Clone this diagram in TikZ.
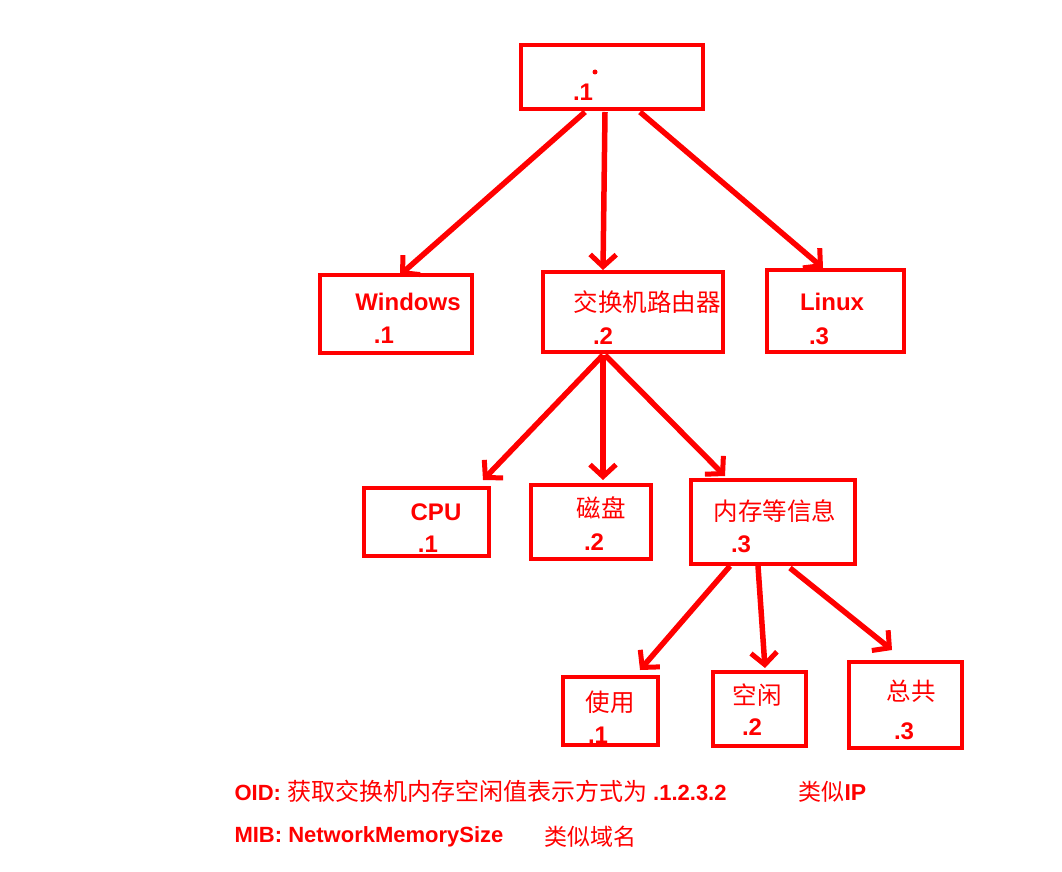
\documentclass[tikz,border=0pt]{standalone}
\usepackage{fontspec}
\setmainfont{Liberation Sans}
\newfontfamily\cjk{Noto Sans CJK SC}
\usetikzlibrary{arrows.meta}
\begin{document}
\begin{tikzpicture}[x=1pt,y=-1pt,
  box/.style={draw=red,line width=4.5pt},
  lat/.style={text=red,font=\fontsize{24}{28}\selectfont\bfseries},
  zh/.style={text=red,font=\cjk\fontsize{24.5}{28}\selectfont},
  arr/.style={draw=red,line width=5.5pt,-{Straight Barb[length=12pt,width=26pt,line width=5pt]}}]
\useasboundingbox[fill=white] (0,0) rectangle (1062,872);
\draw[box] (521,45) rectangle (703,109);
\fill[red] (595,72) circle (2.5pt) coordinate (rdot);
\node[lat] (r1) at (583,92) {.1};
\draw[box] (320,275) rectangle (472,353);
\node[lat] (win) at (408,302) {Windows}; \node[lat] (win1) at (384,335) {.1};
\draw[box] (543,272) rectangle (723,352);
\node[zh] (sw) at (647,302) {交换机路由器}; \node[lat] (sw1) at (603,336) {.2};
\draw[box] (767,270) rectangle (904,352);
\node[lat] (lin) at (832,302) {Linux}; \node[lat] (lin1) at (819,336) {.3};
\draw[box] (364,488) rectangle (489,556);
\node[lat] (cpu) at (436,512) {CPU}; \node[lat] (cpu1) at (428,544) {.1};
\draw[box] (531,485) rectangle (651,559);
\node[zh] (disk) at (601,508) {磁盘}; \node[lat] (disk1) at (594,542) {.2};
\draw[box] (691,480) rectangle (855,564);
\node[zh] (mem) at (775,511) {内存等信息}; \node[lat] (mem1) at (741,544) {.3};
\draw[box] (563,677) rectangle (658,745);
\node[zh] (use) at (610,702) {使用}; \node[lat] (use1) at (598,735) {.1};
\draw[box] (713,672) rectangle (806,746);
\node[zh] (free) at (757,695) {空闲}; \node[lat] (free1) at (752,727) {.2};
\draw[box] (849,662) rectangle (962,748);
\node[zh] (tot) at (911,691) {总共}; \node[lat] (tot1) at (904,731) {.3};
\coordinate (a1) at (585,112); \coordinate (a1e) at (400,275);
\coordinate (a2) at (605,112); \coordinate (a2e) at (603,270);
\coordinate (a3) at (640,112); \coordinate (a3e) at (823,268);
\coordinate (b1) at (603,355); \coordinate (b1e) at (483,480);
\coordinate (b2) at (603,355); \coordinate (b2e) at (603,480);
\coordinate (b3) at (605,355); \coordinate (b3e) at (725,476);
\coordinate (c1) at (730,566); \coordinate (c1e) at (640,670);
\coordinate (c2) at (758,566); \coordinate (c2e) at (765,668);
\coordinate (c3) at (790,568); \coordinate (c3e) at (892,650);
\foreach \s/\e in {a1/a1e,a2/a2e,a3/a3e,b1/b1e,b2/b2e,b3/b3e,c1/c1e,c2/c2e,c3/c3e}
  \draw[arr] (\s) -- (\e);
\node[lat,anchor=west,font=\fontsize{22}{26}\selectfont\bfseries] (oid) at (231,791) {OID: {\cjk\mdseries\fontsize{24}{26}\selectfont 获取交换机内存空闲值表示方式为} .1.2.3.2};
\node[zh,anchor=west,font=\cjk\fontsize{23}{26}\selectfont] (ip) at (795,792) {类似\textbf{\rmfamily IP}};
\node[lat,anchor=west,font=\fontsize{22}{26}\selectfont\bfseries] (mib) at (231,837) {MIB: NetworkMemorySize};
\node[zh,anchor=west,font=\cjk\fontsize{23}{26}\selectfont] (dom) at (541,837) {类似域名};
\end{tikzpicture}
\end{document}
